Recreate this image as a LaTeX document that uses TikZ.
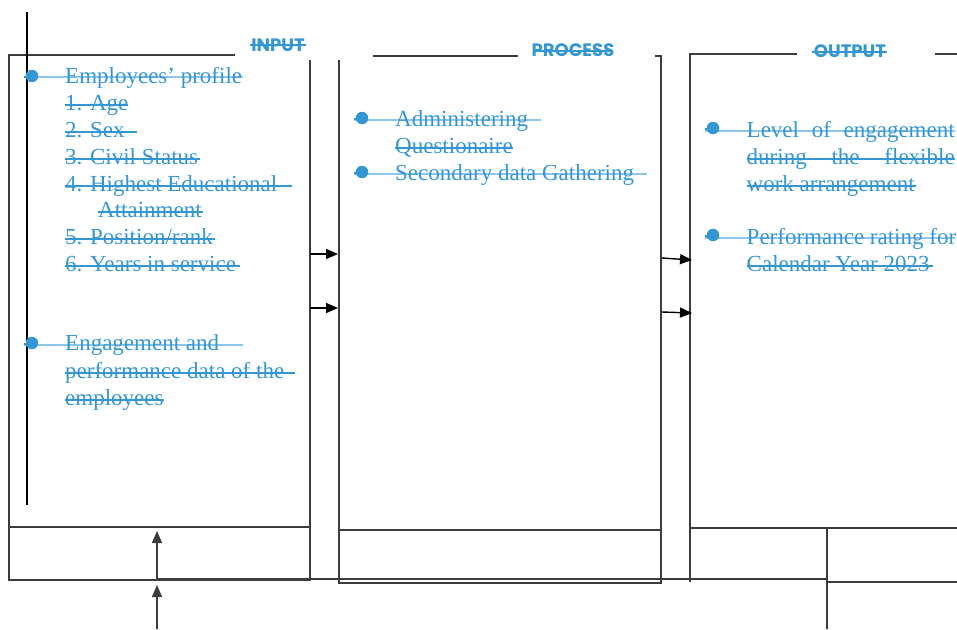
\documentclass[tikz,border=0pt]{standalone}
\usepackage{fontspec}
\setmainfont{Liberation Serif}
\newfontfamily\headfont{Poppins}
\usetikzlibrary{arrows.meta}
\definecolor{txtblue}{HTML}{3596D4}
\definecolor{lightblue}{HTML}{8DC6EA}
\definecolor{boxgray}{HTML}{3C3C3C}
\tikzset{
  frame/.style={draw=boxgray, line width=1.3pt},
  body/.style={anchor=base west, inner sep=0pt, text=txtblue, font=\fontsize{23}{27}\selectfont},
  head/.style={anchor=base, inner sep=0pt, text=txtblue, font=\headfont\bfseries\fontsize{18}{20}\selectfont},
  strike/.style={draw=txtblue, line width=2.2pt},
  lstrike/.style={draw=lightblue, line width=2.2pt},
  dot/.style={circle, fill=txtblue, inner sep=0pt, minimum size=12.5pt},
  flow/.style={draw=black, line width=1.4pt, -{Triangle[length=12pt,width=10pt]}},
}
\begin{document}
\begin{tikzpicture}[x=1pt,y=-1pt]
\useasboundingbox (0,0) rectangle (957,629);

% ---------- frames ----------
% input
\draw[frame] (235,55) -- (9,55) -- (9,580) -- (310,580) -- (310,60);
\draw[frame] (9,527) -- (310,527);
% process
\draw[frame] (373,56) -- (518,56);
\draw[frame] (655,56) -- (661,56) -- (661,583) -- (339,583) -- (339,60);
\draw[frame] (339,530) -- (661,530);
% output
\draw[frame] (797,54) -- (690,54) -- (690,582);
\draw[frame] (935,54) -- (957,54);
\draw[frame] (690,528) -- (957,528);
\draw[frame] (827,582) -- (957,582);
\draw[frame] (827,528) -- (827,629);
\draw[frame] (157,579) -- (827,579);

% thick vertical line
\draw[black, line width=2.2pt] (27,12) -- (27,505);

% ---------- headings ----------
\node[head] (hin) at (278,51) {INPUT};
\draw[strike, line width=1.6pt] (250,45) -- (306,45);
\node[head] (hpr) at (573,56.5) {PROCESS};
\draw[strike, line width=1.6pt] (533,51) -- (613,51);
\node[head] (hout) at (850,57) {OUTPUT};
\draw[strike, line width=1.6pt] (812,52) -- (887,52);

% ---------- input text ----------
\draw[lstrike] (24,77) -- (243,77);
\draw[strike] (24,77) -- (32,77);
\node[dot] (b1) at (32,76) {};
\node[body] (i0) at (65,83) {Employees’ profile};
\node[body] (i1) at (65,110) {1. Age};
\draw[strike] (65,105) -- (128,105);
\node[body] (i2) at (65,137) {2. Sex};
\draw[strike] (65,132) -- (137,132);
\node[body] (i3) at (65,164) {3. Civil Status};
\draw[strike] (65,159) -- (200,159);
\node[body] (i4) at (65,191) {4. Highest Educational};
\draw[strike] (65,186) -- (292,186);
\node[body] (i5) at (98,217) {Attainment};
\draw[strike] (98,212) -- (203,212);
\node[body] (i6) at (65,244) {5. Position/rank};
\draw[strike] (65,239) -- (215,239);
\node[body] (i7) at (65,271) {6. Years in service};
\draw[strike] (65,266) -- (240,266);

\draw[lstrike] (24,345) -- (243,345);
\draw[strike] (24,344) -- (32,344);
\node[dot] (b2) at (32,343) {};
\node[body] (i8) at (65,350) {Engagement and};
\node[body] (i9) at (65,378) {performance data of the};
\draw[strike] (65,373) -- (295,373);
\node[body] (i10) at (65,405) {employees};
\draw[strike] (65,400) -- (164,400);

% ---------- process text ----------
\draw[lstrike] (354,120) -- (541,120);
\draw[strike] (354,119) -- (362,119);
\node[dot] (b3) at (362,118) {};
\node[body] (p0) at (395,126) {Administering};
\node[body] (p1) at (395,153) {Questionaire};
\draw[strike] (395,148) -- (513,148);
\draw[lstrike] (354,174) -- (647,174);
\draw[strike] (354,173) -- (362,173);
\node[dot] (b4) at (362,172) {};
\node[body] (p2) at (395,180) {Secondary data Gathering};

% ---------- output text ----------
\draw[lstrike] (705,131) -- (955,131);
\draw[strike] (705,129) -- (713,129);
\node[dot] (b5) at (713,128) {};
\node[body] (o0) at (746.5,137) {\makebox[208pt][s]{Level of engagement}};
\node[body] (o1) at (746.5,164) {\makebox[208pt][s]{during the flexible}};
\draw[strike] (747,159) -- (955,159);
\node[body] (o2) at (746.5,191) {work arrangement};
\draw[strike] (747,186) -- (916,186);
\draw[lstrike] (705,238) -- (955,238);
\draw[strike] (705,236) -- (713,236);
\node[dot] (b6) at (713,235) {};
\node[body] (o3) at (746.5,244) {Performance rating for};
\node[body] (o4) at (746.5,271) {Calendar Year 2023};
\draw[strike] (747,266) -- (933,266);

% ---------- arrows ----------
\coordinate (a1s) at (310,254); \coordinate (a1e) at (338,254);
\coordinate (a2s) at (310,308); \coordinate (a2e) at (338,308);
\coordinate (a3s) at (662,258); \coordinate (a3e) at (692,260);
\coordinate (a4s) at (662,312); \coordinate (a4e) at (692,313);
\coordinate (u1s) at (157,579); \coordinate (u1e) at (157,531);
\coordinate (u2s) at (157,629); \coordinate (u2e) at (157,585);
\draw[flow] (a1s) -- (a1e);
\draw[flow] (a2s) -- (a2e);
\draw[flow] (a3s) -- (a3e);
\draw[flow] (a4s) -- (a4e);
\draw[flow, draw=boxgray] (u1s) -- (u1e);
\draw[flow, draw=boxgray] (u2s) -- (u2e);
\end{tikzpicture}
\end{document}
